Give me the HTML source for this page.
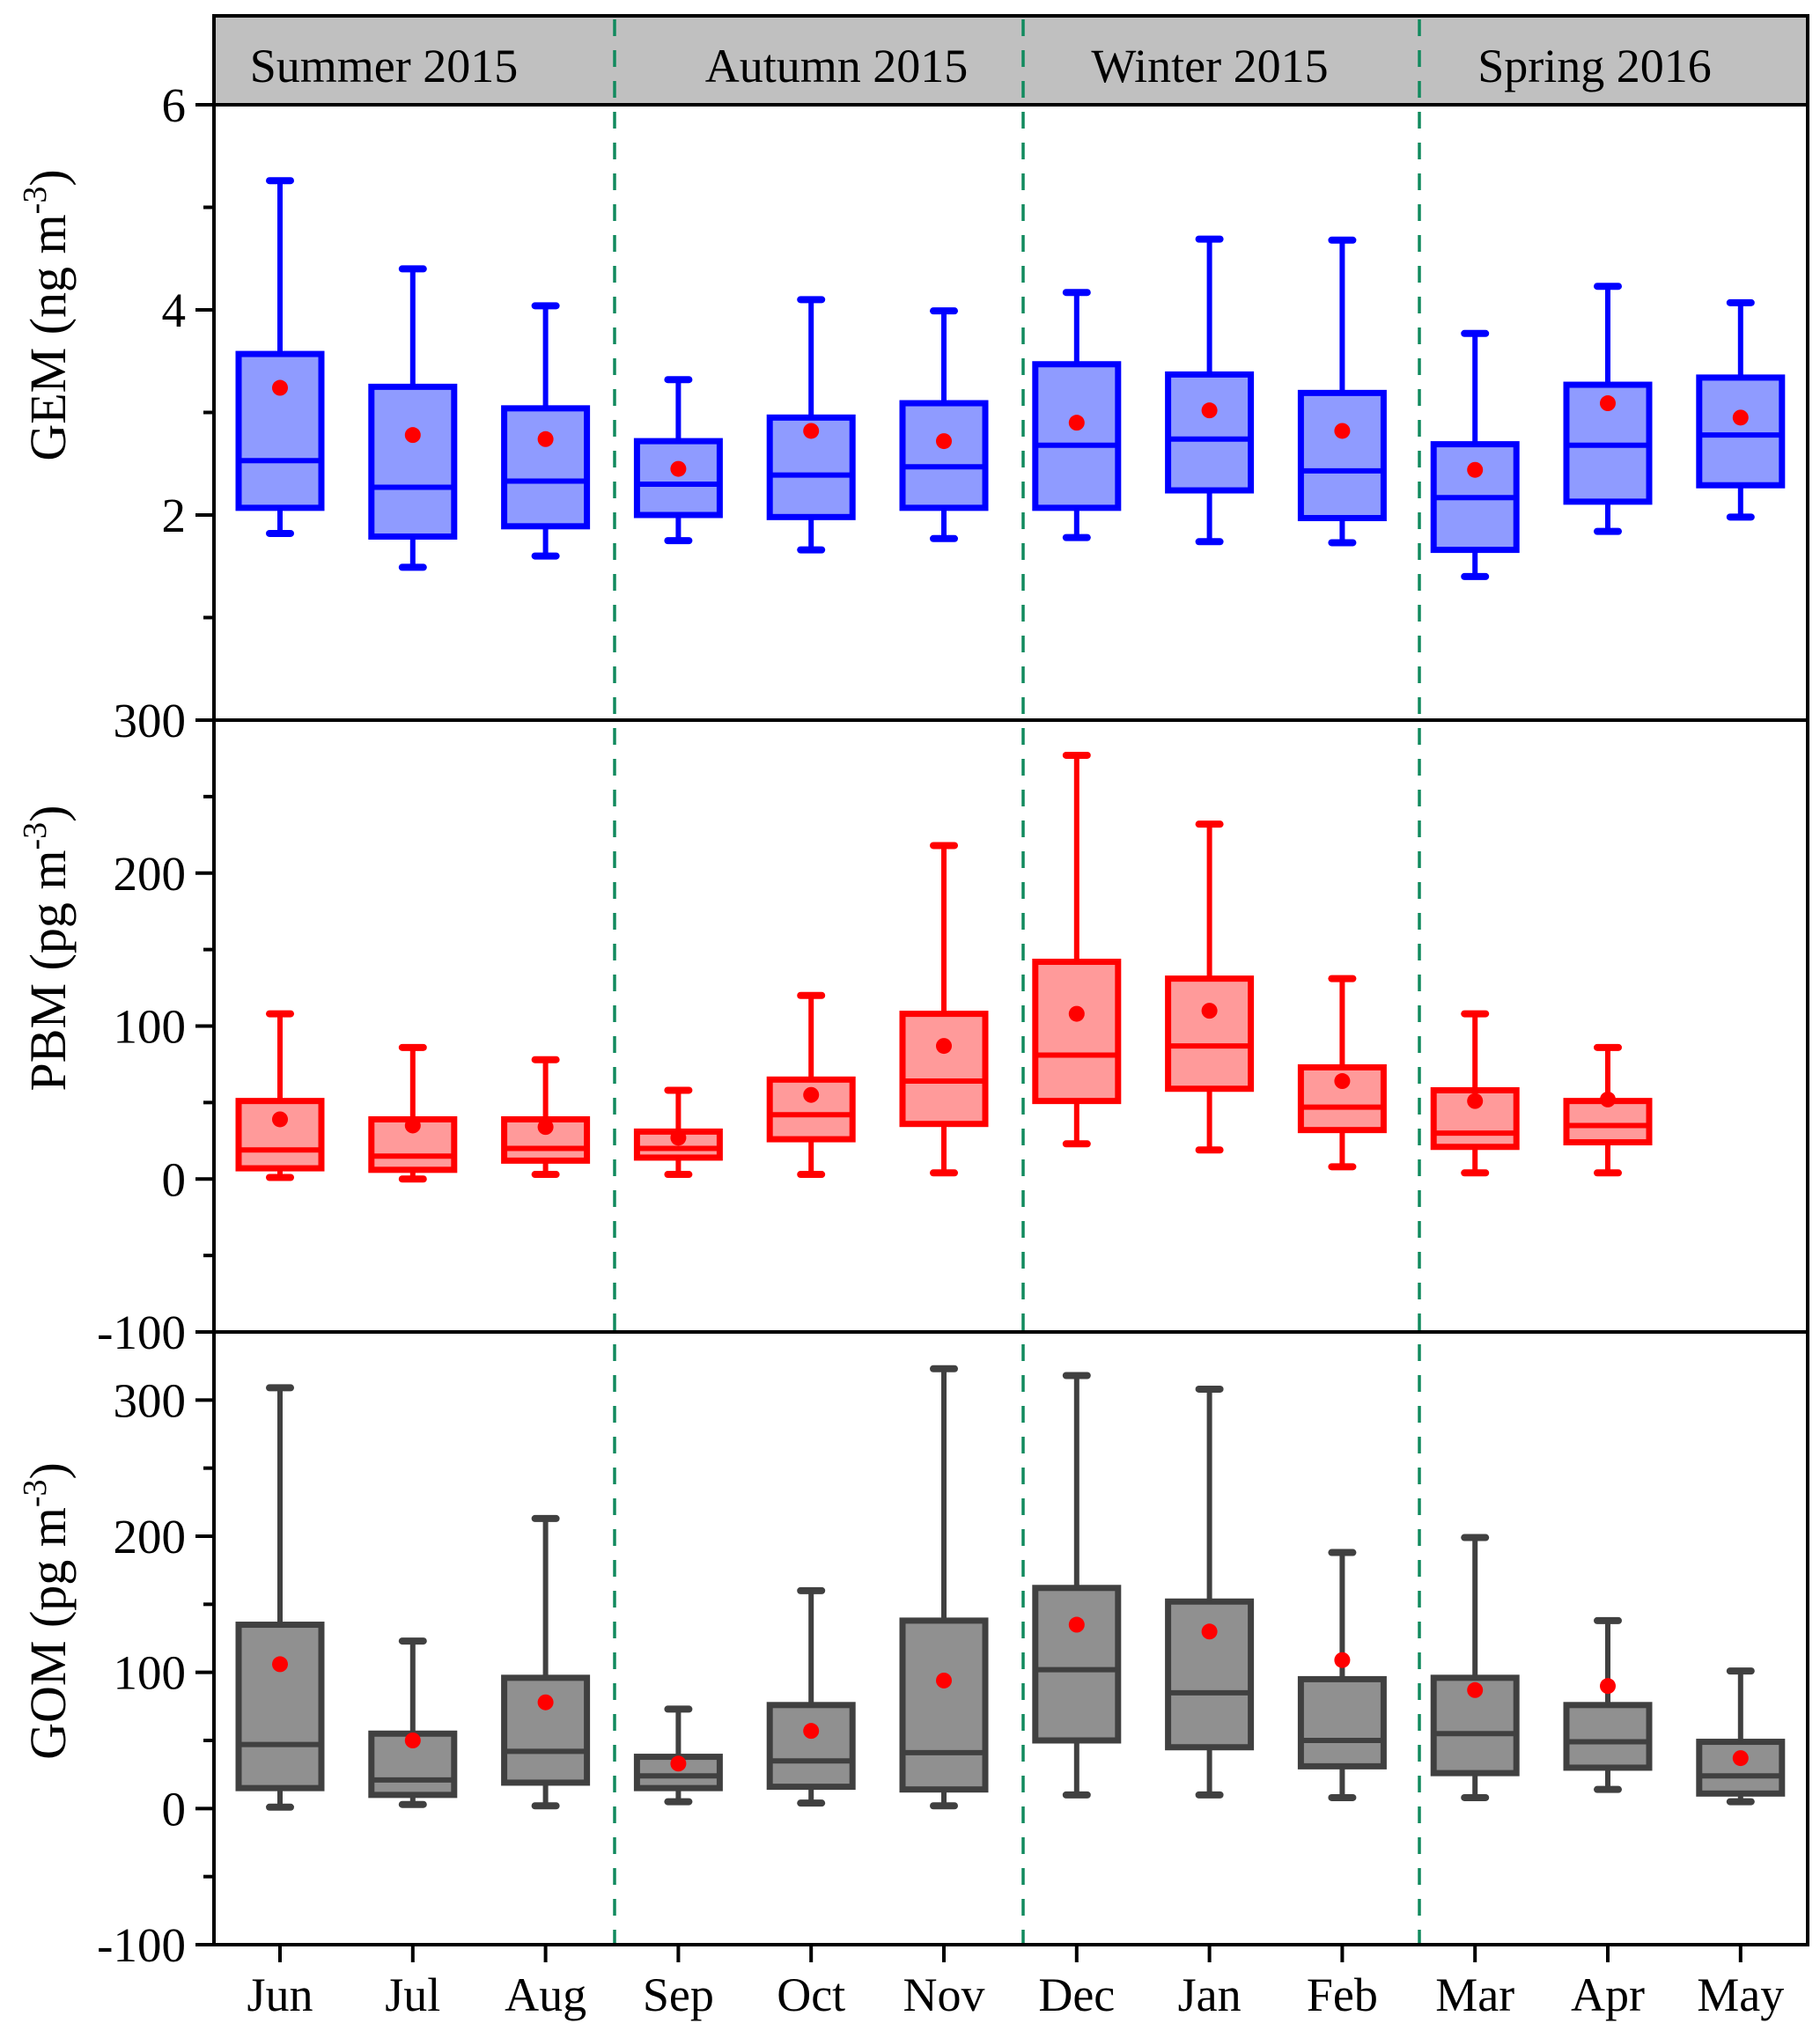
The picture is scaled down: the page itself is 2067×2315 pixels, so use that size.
<!DOCTYPE html>
<html><head><meta charset="utf-8"><style>
html,body{margin:0;padding:0;background:#fff}
svg text{font-family:"Liberation Serif",serif;fill:#000}
</style></head><body>
<svg id="chart" xmlns="http://www.w3.org/2000/svg" width="2067" height="2310" viewBox="0 0 2067 2310"></svg>
<script>
const months = ["Jun","Jul","Aug","Sep","Oct","Nov","Dec","Jan","Feb","Mar","Apr","May"];
const seasons = ["Summer 2015","Autumn 2015","Winter 2015","Spring 2016"];
// GEM ng m-3
const gemMin = [1.82,1.49,1.60,1.75,1.66,1.77,1.78,1.74,1.73,1.40,1.84,1.98];
const gemQ1  = [2.07,1.79,1.89,2.00,1.98,2.07,2.07,2.24,1.97,1.66,2.13,2.29];
const gemMed = [2.53,2.27,2.33,2.30,2.39,2.47,2.68,2.74,2.43,2.17,2.68,2.78];
const gemQ3  = [3.57,3.25,3.04,2.72,2.95,3.09,3.47,3.37,3.19,2.69,3.27,3.34];
const gemMax = [5.26,4.40,4.04,3.32,4.10,3.99,4.17,4.69,4.68,3.77,4.23,4.07];
const gemMean= [3.24,2.78,2.74,2.45,2.82,2.72,2.90,3.02,2.82,2.44,3.09,2.95];
// PBM pg m-3 (May missing)
const pbmMin = [1,0,3,3,3,4,23,19,8,4,4,null];
const pbmQ1  = [7,6,12,14,26,36,51,59,32,21,24,null];
const pbmMed = [19,15,20,20,42,64,81,87,47,30,35,null];
const pbmQ3  = [51,39,39,31,65,108,142,131,73,58,51,null];
const pbmMax = [108,86,78,58,120,218,277,232,131,108,86,null];
const pbmMean= [39,35,34,27,55,87,108,110,64,51,52,null];
// GOM pg m-3
const gomMin = [1,3,2,5,4,2,10,10,8,8,14,5];
const gomQ1  = [15,10,19,15,16,14,50,45,31,26,30,11];
const gomMed = [47,21,42,24,35,41,102,85,50,55,49,24];
const gomQ3  = [135,55,96,38,76,138,162,152,95,96,76,49];
const gomMax = [309,123,213,73,160,323,318,308,188,199,138,101];
const gomMean= [106,50,78,33,57,94,135,130,109,87,90,37];

const NS="http://www.w3.org/2000/svg";
const svg=document.getElementById('chart');
function el(tag,attrs,parent){const e=document.createElementNS(NS,tag);for(const k in attrs)e.setAttribute(k,attrs[k]);(parent||svg).appendChild(e);return e;}

const L=243,R=2053,T=18,HB=119;
const x0=318,step=150.8;
const xc=i=>x0+i*step;

const panels=[
 {name:'gem',top:119,bot:818,vmin:0,vmax:6,major:[6,4,2],labels:['6','4','2'],minor:[5,3,1],
  stroke:'#0000ff',fill:'#8f9bff',d:[gemMin,gemQ1,gemMed,gemQ3,gemMax,gemMean]},
 {name:'pbm',top:818,bot:1513,vmin:-100,vmax:300,major:[300,200,100,0,-100],labels:['300','200','100','0','-100'],minor:[250,150,50,-50],
  stroke:'#ff0000',fill:'#ff9a9a',d:[pbmMin,pbmQ1,pbmMed,pbmQ3,pbmMax,pbmMean]},
 {name:'gom',top:1513,bot:2209,vmin:-100,vmax:350,major:[300,200,100,0,-100],labels:['300','200','100','0','-100'],minor:[250,150,50,-50],
  stroke:'#404040',fill:'#909090',d:[gomMin,gomQ1,gomMed,gomQ3,gomMax,gomMean]}
];

const hdr=el('rect',{x:L,y:T,width:R-L,height:HB-T,fill:'#c0c0c0'});


const seasonX=[436,950,1374,1811];
seasons.forEach((s,i)=>{
 const t=el('text',{x:seasonX[i],y:93,'font-size':54,'text-anchor':'middle'});t.textContent=s;
 
 
});

panels.forEach(p=>{
 const y=v=>p.bot-(v-p.vmin)/(p.vmax-p.vmin)*(p.bot-p.top);
 const g=el('g',{});
 
 
 p.major.forEach((v,k)=>{
  el('line',{x1:222,x2:L,y1:y(v),y2:y(v),stroke:'#000','stroke-width':4},g);
  const t=el('text',{x:211,y:y(v)+19,'font-size':55,'text-anchor':'end'},g);t.textContent=p.labels[k];
  
  
 });
 p.minor.forEach(v=>el('line',{x1:231,x2:L,y1:y(v),y2:y(v),stroke:'#000','stroke-width':4},g));
 const bw=94,cw=24;
 for(let i=0;i<months.length;i++){
  const [mn,q1,md,q3,mx,me]=p.d.map(a=>a[i]);
  if(mn==null)continue;
  const x=xc(i);
  const bx=el('g',{},g);
  
  
  const sw=6;
  el('line',{x1:x,x2:x,y1:y(mx),y2:y(q3),stroke:p.stroke,'stroke-width':sw},bx);
  el('line',{x1:x,x2:x,y1:y(q1),y2:y(mn),stroke:p.stroke,'stroke-width':sw},bx);
  el('line',{x1:x-cw/2,x2:x+cw/2,y1:y(mx),y2:y(mx),stroke:p.stroke,'stroke-width':8,'stroke-linecap':'round'},bx);
  el('line',{x1:x-cw/2,x2:x+cw/2,y1:y(mn),y2:y(mn),stroke:p.stroke,'stroke-width':8,'stroke-linecap':'round'},bx);
  el('rect',{x:x-bw/2,y:y(q3),width:bw,height:y(q1)-y(q3),fill:p.fill,stroke:p.stroke,'stroke-width':7},bx);
  el('line',{x1:x-bw/2,x2:x+bw/2,y1:y(md),y2:y(md),stroke:p.stroke,'stroke-width':6},bx);
  const c=el('circle',{cx:x,cy:y(me),r:9,fill:'#ff0000'},bx);
  
  
 }
});

[698,1162,1612].forEach((x,i)=>{
 const d=el('line',{x1:x,x2:x,y1:T+4,y2:2207,stroke:'#118a5e','stroke-width':3.5,'stroke-dasharray':'19 16'});
 
 
});

const fr=el('rect',{x:L,y:T,width:R-L,height:2209-T,fill:'none',stroke:'#000','stroke-width':4});


[119,818,1513].forEach(yy=>el('line',{x1:L,x2:R,y1:yy,y2:yy,stroke:'#000','stroke-width':4}));

months.forEach((m,i)=>{
 el('line',{x1:xc(i),x2:xc(i),y1:2209,y2:2229,stroke:'#000','stroke-width':4});
 const t=el('text',{x:xc(i),y:2284,'font-size':54,'text-anchor':'middle'});t.textContent=m;
 
 
});

const titles=[['GEM (ng m','358','gem'],['PBM (pg m','1077','pbm'],['GOM (pg m','1830','gom']];
titles.forEach(([txt,cy,n])=>{
 const t=el('text',{x:0,y:0,'font-size':58,'text-anchor':'middle',transform:`translate(74,${cy}) rotate(-90)`});
 t.appendChild(document.createTextNode(txt));
 const sup=el('tspan',{dy:-22,'font-size':38},t);sup.textContent='-3';
 const cl=el('tspan',{dy:22},t);cl.textContent=')';
 
 
});
</script>
</body></html>
